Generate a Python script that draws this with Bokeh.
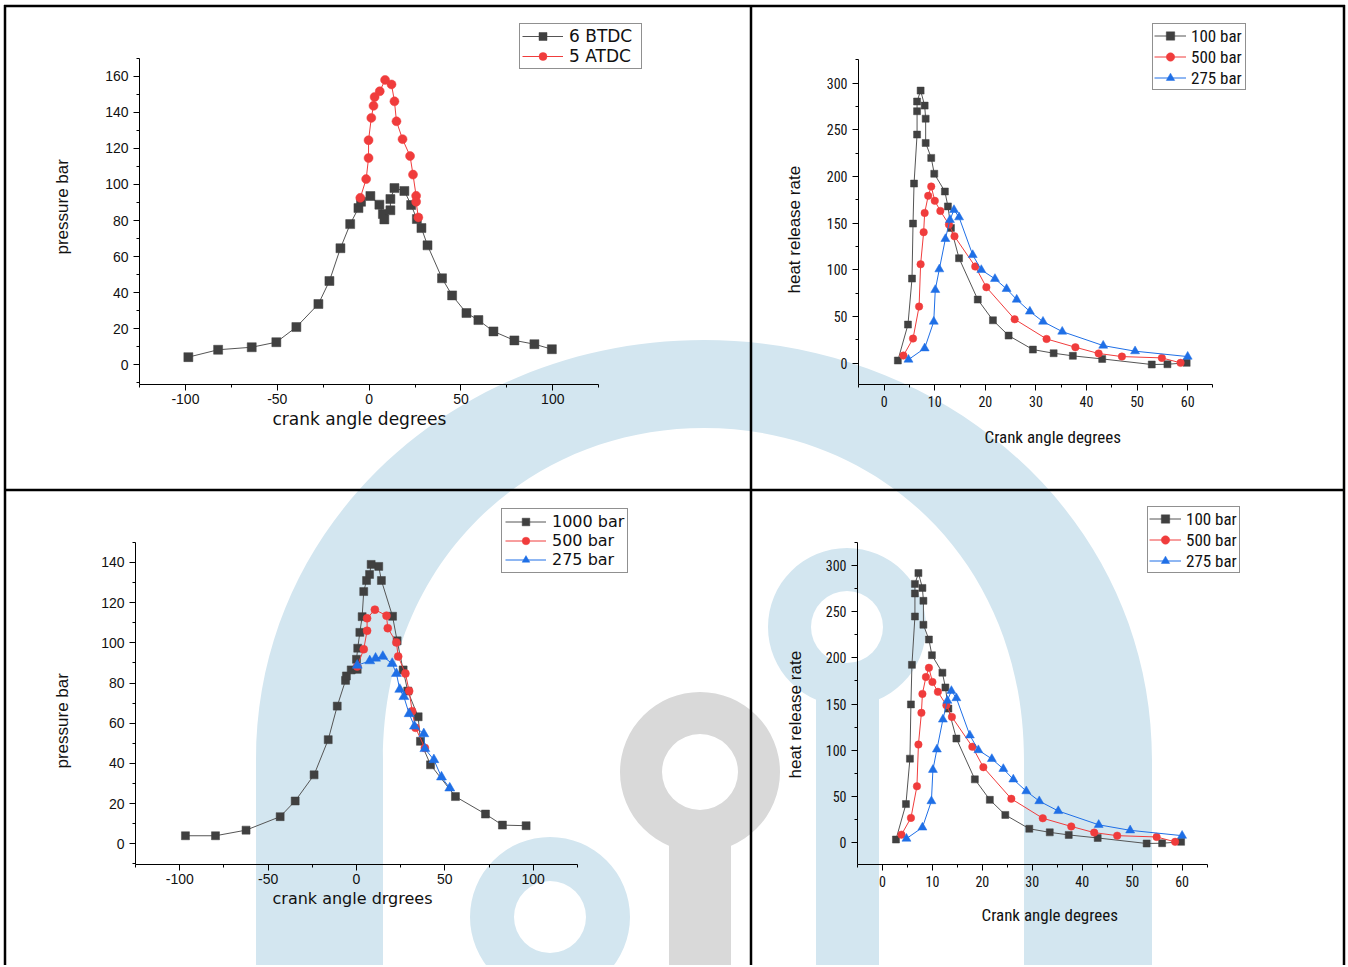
import urllib.parse
from bokeh.plotting import figure
from bokeh.layouts import row, column
from bokeh.models import Range1d, SingleIntervalTicker, Legend, LegendItem, Title, PrintfTickFormatter
from bokeh.embed import file_html
from bokeh.resources import INLINE

# ---------------- data ----------------
# Panel 1: pressure vs crank angle
btdc6_x = [-98.4, -82.2, -63.9, -50.5, -39.6, -27.6, -21.6, -15.6, -10.3, -5.8, -4.4, 0.7, 5.6, 7.5, 8.3,
           11.6, 11.6, 13.8, 19.2, 22.9, 26.0, 28.5, 31.8, 39.7, 45.2, 53.0, 59.5, 67.7, 79.1, 90.0, 99.5]
btdc6_y = [4.1, 8.2, 9.6, 12.4, 20.8, 33.6, 46.4, 64.6, 78.0, 86.9, 90.4, 93.6, 88.8, 83.6, 80.6,
           85.7, 91.9, 98.0, 96.4, 88.6, 80.8, 75.8, 66.2, 47.9, 38.4, 28.6, 24.7, 18.4, 13.4, 11.3, 8.5]
atdc5_x = [-4.8, -1.6, -0.3, -0.3, 1.2, 2.4, 3.0, 5.8, 8.7, 12.2, 13.8, 14.9, 18.2, 22.3, 23.9, 25.6, 25.6, 26.8]
atdc5_y = [92.6, 103.0, 114.7, 124.6, 137.0, 143.7, 148.6, 151.8, 158.1, 155.6, 146.2, 135.1, 125.2, 115.8,
           105.5, 93.7, 90.4, 81.7]

# Panels 2 and 4: heat release rate vs crank angle
hr100_x = [2.7, 4.7, 5.5, 5.7, 5.9, 6.5, 6.5, 6.5, 7.2, 8.0, 8.2, 8.2, 9.3, 9.9, 12.0, 12.6, 13.2, 14.8,
           18.5, 21.5, 24.6, 29.4, 33.5, 37.3, 43.1, 52.9, 56.0, 59.8]
hr100_y = [2.9, 41.4, 90.7, 149.6, 192.5, 245.0, 270.0, 280.4, 292.1, 276.0, 262.0, 236.0, 220.0, 203.0,
           184.0, 168.0, 145.0, 112.5, 68.2, 46.0, 29.6, 14.6, 10.7, 7.9, 4.6, -1.4, -1.1, 0.4]
hr500_x = [3.8, 5.7, 6.9, 7.2, 7.8, 8.0, 8.7, 9.3, 10.0, 11.1, 12.8, 13.9, 18.0, 20.2, 25.8, 32.1, 37.8,
           42.4, 47.0, 54.9, 58.6]
hr500_y = [8.2, 26.4, 60.7, 106.0, 140.4, 161.0, 179.3, 189.3, 174.0, 163.2, 148.6, 136.0, 103.6, 81.4,
           47.1, 26.0, 17.1, 10.4, 7.1, 5.7, 0.4]
hr275_x = [4.8, 8.0, 9.8, 10.1, 10.9, 12.1, 13.0, 13.8, 14.8, 17.5, 19.2, 21.9, 24.2, 26.2, 28.8, 31.4,
           35.2, 43.3, 49.6, 60.0]
hr275_y = [3.9, 16.0, 44.6, 78.6, 100.7, 133.2, 153.6, 164.3, 156.4, 116.0, 100.0, 90.4, 79.6, 68.2, 55.4,
           44.6, 33.9, 18.9, 12.9, 7.1]

# Panel 3: pressure vs crank angle, three injection pressures
p1000_x = [-96.8, -79.8, -62.5, -43.2, -34.7, -24.0, -16.0, -10.9, -6.2, -5.7, -3.0, 0.4, 0.0, 0.7, 1.9,
           3.2, 4.1, 5.7, 7.4, 8.3, 12.6, 14.1, 20.4, 23.0, 26.4, 29.0, 34.9, 36.2, 41.9, 56.0, 73.0, 82.6, 96.0]
p1000_y = [4.0, 4.0, 6.8, 13.5, 21.3, 34.3, 51.8, 68.5, 81.3, 83.5, 86.5, 86.8, 91.8, 97.3, 105.2,
           113.0, 125.5, 131.0, 134.0, 139.0, 138.0, 131.0, 113.2, 101.0, 86.5, 76.0, 63.2, 51.0, 39.3, 23.5,
           14.8, 9.3, 9.0]
p500_x = [0.4, 4.1, 6.0, 6.0, 10.4, 17.0, 17.7, 22.6, 23.6, 27.7, 29.8, 31.5, 33.4, 38.7]
p500_y = [88.2, 96.8, 106.0, 112.2, 116.5, 113.5, 107.3, 100.2, 93.2, 84.7, 76.0, 66.0, 57.7, 47.7]
p275_x = [0.4, 7.5, 10.8, 14.9, 20.2, 22.6, 24.5, 26.8, 29.8, 32.8, 38.1, 38.7, 43.8, 48.1, 52.8]
p275_y = [88.8, 91.0, 92.3, 93.2, 89.7, 84.7, 76.8, 73.2, 64.7, 58.5, 54.7, 47.3, 41.8, 33.2, 27.7]

# ---------------- styles ----------------
K_FILL, K_LINE = "#404040", "#555555"
RED = "#f03c3c"
BLUE = "#1f6fe6"
WIDE = "DejaVu Sans"
ARIAL = "Liberation Sans"
NARROW = "Liberation Sans Narrow, Roboto Condensed, Liberation Sans"


def make_fig(w, h, left, right, top, bottom, xr, yr, xb, yb, xint, yint, tick_font, tick_size, xstand):
    p = figure(width=w, height=h, x_range=Range1d(*xr), y_range=Range1d(*yr),
               output_backend="svg", toolbar_location=None,
               min_border_left=left, min_border_right=right,
               min_border_top=top, min_border_bottom=bottom)
    p.background_fill_color = None
    p.border_fill_color = None
    p.outline_line_color = None
    p.grid.visible = False
    p.xaxis.ticker = SingleIntervalTicker(interval=xint, num_minor_ticks=2)
    p.yaxis.ticker = SingleIntervalTicker(interval=yint, num_minor_ticks=2)
    p.xaxis.formatter = PrintfTickFormatter(format="%d")
    p.yaxis.formatter = PrintfTickFormatter(format="%d")
    p.xaxis.bounds = xb
    p.yaxis.bounds = yb
    for ax in (p.xaxis[0], p.yaxis[0]):
        ax.axis_line_color = "black"
        ax.axis_line_width = 1
        ax.major_tick_line_color = "black"
        ax.minor_tick_line_color = "black"
        ax.major_tick_in = 0
        ax.major_tick_out = 6
        ax.minor_tick_in = 0
        ax.minor_tick_out = 3
        ax.major_label_text_font = tick_font
        ax.major_label_text_font_size = tick_size
        ax.major_label_text_color = "#111111"
    p.xaxis.major_label_standoff = xstand
    return p


def add_series(p, x, y, marker, size, fill, line):
    lr = p.line(x, y, line_color=line, line_width=1)
    sr = p.scatter(x, y, marker=marker, size=size, fill_color=fill, line_color=fill, line_width=0.5)
    return [lr, sr]


def add_legend(p, items, loc, font, size, glyph_w, row_h, standoff, label_w, pad):
    lg = Legend(items=[LegendItem(label=t, renderers=r) for t, r in items], location=loc)
    lg.label_text_font = font
    lg.label_text_font_size = size
    lg.label_text_color = "#111111"
    lg.glyph_width = glyph_w
    lg.glyph_height = row_h
    lg.label_height = row_h
    lg.label_width = label_w
    lg.label_standoff = standoff
    lg.padding = pad
    lg.spacing = 0
    lg.margin = 0
    lg.border_line_color = "#222222"
    lg.border_line_width = 1
    lg.background_fill_color = "white"
    lg.background_fill_alpha = 1.0
    p.add_layout(lg)


def side_title(p, text, side, offset, font, size, standoff):
    t = Title(text=text, align="left", offset=offset, standoff=standoff,
              text_font=font, text_font_size=size, text_font_style="normal", text_color="#111111")
    p.add_layout(t, side)


# Frames of each row share the same top/bottom edges (row alignment).
# ---- Panel 1 ----  frame: x 139..650, y 20..384
p1 = make_fig(751, 490, 139, 101, 20, 106, (-125, 153.2), (-11.1, 191.1), (-125, 125), (-11.1, 170),
              50, 20, ARIAL, "14px", 3)
r_a = add_series(p1, btdc6_x, btdc6_y, "square", 9, K_FILL, K_LINE)
r_b = add_series(p1, atdc5_x, atdc5_y, "circle", 9, RED, RED)
side_title(p1, "crank angle degrees", "below", 133, WIDE, "17px", 0)
side_title(p1, "pressure bar", "left", 130, ARIAL, "17px", 62)
add_legend(p1, [("6 BTDC", r_a), ("5 ATDC", r_b)], (380, 315), WIDE, "17px", 41, 20, 6, 70, 2)

# ---- Panel 2 ----  frame: x 858..1260, y 20..384
p2 = make_fig(595, 490, 107, 86, 20, 106, (-5.08, 74.4), (-22.8, 367.2), (-5, 65), (-22.8, 325),
              10, 50, NARROW, "14px", 5)
r_c = add_series(p2, hr100_x, hr100_y, "square", 7, K_FILL, K_LINE)
r_d = add_series(p2, hr500_x, hr500_y, "circle", 7.5, RED, RED)
r_e = add_series(p2, hr275_x, hr275_y, "triangle", 9, BLUE, BLUE)
side_title(p2, "Crank angle degrees", "below", 126, NARROW, "17px", 30)
side_title(p2, "heat release rate", "left", 91, ARIAL, "17px", 40)
add_legend(p2, [("100 bar", r_c), ("500 bar", r_d), ("275 bar", r_e)], (294, 294), NARROW, "17px", 32, 21, 5, 53, 1)

# ---- Panel 3 ----  frame: x 135..650, y 500..864
p3 = make_fig(751, 475, 135, 101, 10, 101, (-125.07, 166.4), (-10.3, 170.8), (-125, 125), (-10.3, 150),
              50, 20, ARIAL, "14px", 3)
r_f = add_series(p3, p1000_x, p1000_y, "square", 8, K_FILL, K_LINE)
r_g = add_series(p3, p500_x, p500_y, "circle", 8, RED, RED)
r_h = add_series(p3, p275_x, p275_y, "triangle", 10, BLUE, BLUE)
side_title(p3, "crank angle drgrees", "below", 137, WIDE, "16px", 0)
side_title(p3, "pressure bar", "left", 96, ARIAL, "17px", 54)
add_legend(p3, [("1000 bar", r_f), ("500 bar", r_g), ("275 bar", r_h)], (366, 291), WIDE, "16px", 41, 19, 6, 72, 3)

# ---- Panel 4 ----  frame: x 857..1260, y 500..864
p4 = make_fig(595, 475, 106, 86, 10, 101, (-5.0, 75.7), (-24.2, 370.9), (-5, 65), (-24.2, 325),
              10, 50, NARROW, "14px", 5)
r_i = add_series(p4, hr100_x, hr100_y, "square", 7, K_FILL, K_LINE)
r_j = add_series(p4, hr500_x, hr500_y, "circle", 7.5, RED, RED)
r_k = add_series(p4, hr275_x, hr275_y, "triangle", 9, BLUE, BLUE)
side_title(p4, "Crank angle degrees", "below", 124, NARROW, "17px", 27)
side_title(p4, "heat release rate", "left", 86, ARIAL, "17px", 35)
add_legend(p4, [("100 bar", r_i), ("500 bar", r_j), ("275 bar", r_k)], (290, 291), NARROW, "17px", 32, 21, 5, 52, 1)

# ---------------- background watermark + panel frame (decoration) ----------------
WB = "#d3e6f0"
WG = "#d9d9d9"


def ring(cx, cy, ro, ri):
    return (f"M {cx-ro} {cy} a {ro} {ro} 0 1 0 {2*ro} 0 a {ro} {ro} 0 1 0 {-2*ro} 0 Z "
            f"M {cx-ri} {cy} a {ri} {ri} 0 1 0 {2*ri} 0 a {ri} {ri} 0 1 0 {-2*ri} 0 Z")


big = ("M 256 990 L 256 760 C 256 520 460 340 704 340 C 948 340 1152 520 1152 760 L 1152 990 Z "
       "M 383 990 L 383 760 C 383 560 530 428 704 428 C 878 428 1024 560 1024 760 L 1024 990 Z")
svg = (
    '<svg xmlns="http://www.w3.org/2000/svg" width="1346" height="965" viewBox="0 0 1346 965">'
    f'<path d="{big}" fill="{WB}" fill-rule="evenodd"/>'
    f'<path d="{ring(847, 627, 79, 36)}" fill="{WB}" fill-rule="evenodd"/>'
    f'<rect x="816" y="690" width="63" height="300" fill="{WB}"/>'
    f'<path d="{ring(550, 917, 80, 36)}" fill="{WB}" fill-rule="evenodd"/>'
    f'<path d="{ring(700, 772, 80, 38)}" fill="{WG}" fill-rule="evenodd"/>'
    f'<rect x="669" y="838" width="62" height="160" fill="{WG}"/>'
    '<g stroke="black" stroke-width="2.5" fill="none">'
    '<line x1="5" y1="5" x2="5" y2="965"/>'
    '<line x1="4" y1="6" x2="1345" y2="6"/>'
    '<line x1="1344" y1="5" x2="1344" y2="965"/>'
    '<line x1="751" y1="5" x2="751" y2="965"/>'
    '<line x1="4" y1="490" x2="1345" y2="490"/>'
    '</g></svg>'
)
bg = 'url("data:image/svg+xml,' + urllib.parse.quote(svg) + '")'

layout = column(row(p1, p2), row(p3, p4),
                styles={"background-image": bg, "background-repeat": "no-repeat",
                        "background-size": "1346px 965px", "background-color": "white"})

open("out.html", "w").write(file_html(layout, INLINE))
